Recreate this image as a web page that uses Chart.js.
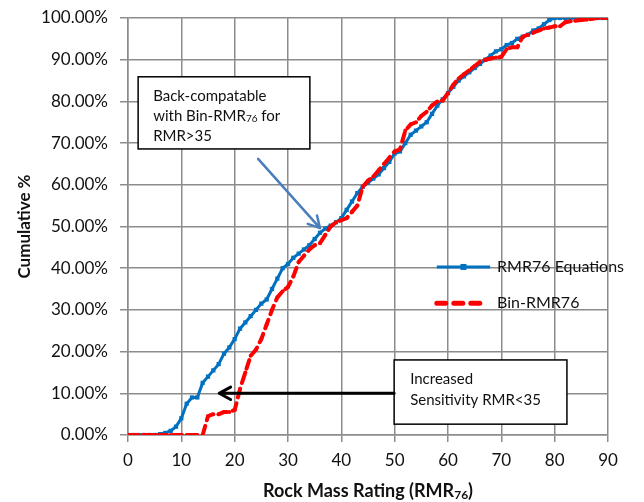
<!DOCTYPE html>
<html>
<head>
<meta charset="utf-8">
<script src="https://cdn.jsdelivr.net/npm/chart.js@4.4.1/dist/chart.umd.min.js"></script>
<style>
  html, body { margin: 0; padding: 0; background: #fff; }
  #wrap { width: 644px; height: 502px; }
</style>
</head>
<body>
<div id="wrap"><canvas id="chart" width="644" height="502"></canvas></div>
<script>
// RMR values (x) — one point per rating unit
const rmrValues = [];
for (let i = 0; i <= 90; i++) rmrValues.push(i);

// Cumulative %
const rmr76Equations = [
    0, 0, 0, 0, 0, 0, 0.2, 0.5, 1, 2,
    4, 7.5, 9, 9, 12.5, 14, 15.5, 17, 19.5, 21,
    23, 25.5, 27, 28.5, 30, 31.5, 32.5, 35, 37.5, 40,
    41, 42.5, 43.5, 44.5, 45.5, 47, 48.5, 49.5, 50.2, 51,
    52, 54, 56, 58, 59.5, 60.5, 61.5, 62.5, 64, 65.5,
    67.5, 68, 70, 72, 73, 74, 75, 77, 79, 80.5,
    82, 83.5, 85, 86, 87, 88, 89, 90, 91, 92,
    92.5, 93.5, 94, 95, 95.5, 96, 97, 97.5, 98.5, 99.5,
    100, 100, 100, 100, 100, 100, 100, 100, 100, 100,
    100
];
const binRmr76 = [
    0, 0, 0, 0, 0, 0, 0, 0, 0, 0,
    0, 0, 0, 0, 0, 4.5, 5, 5, 5.5, 5.5,
    6, 11, 15, 19, 20.5, 23, 26.5, 30, 33, 34.5,
    35.5, 38, 41.5, 43, 44.5, 45.5, 46, 48, 50, 51,
    51.5, 52, 53.5, 55, 59.5, 61, 62, 63.5, 65, 66.5,
    68, 68.5, 73, 74.5, 75, 76.5, 77.5, 79, 80, 80.2,
    82, 84, 85.5, 86.5, 87.5, 88.5, 89.5, 90, 90.3, 90.5,
    90.7, 92.5, 93, 93, 95.5, 96, 96.5, 97, 97.5, 97.7,
    98, 98, 99, 99.2, 99.4, 99.5, 99.6, 99.8, 100, 100,
    100
];
const seriesNames = ['RMR76 Equations', 'Bin-RMR76'];
const xTicks = [0, 10, 20, 30, 40, 50, 60, 70, 80, 90];
const yTicks = [0, 10, 20, 30, 40, 50, 60, 70, 80, 90, 100];

const BLUE = '#0070c0';
const RED = '#ff0000';
const TEXT = '#111';
const FONT = 'Lato, "Open Sans", sans-serif';

function toPoints(ys) {
    return rmrValues.map((x, i) => ({ x: x, y: ys[i] }));
}

// text with an optional subscript part: [['with Bin-RMR'], ['76', true], [' for']]
function drawRich(ctx, parts, x, y, size, bold) {
    let cx = x;
    parts.forEach(p => {
        const sub = p[1];
        const fs = sub ? Math.round(size * 0.65) : size;
        ctx.font = (bold ? 'bold ' : '') + fs + 'px ' + FONT;
        ctx.fillText(p[0], cx, sub ? y + size * 0.22 : y);
        cx += ctx.measureText(p[0]).width;
    });
    return cx - x;
}
function richWidth(ctx, parts, size, bold) {
    let w = 0;
    parts.forEach(p => {
        const fs = p[1] ? Math.round(size * 0.65) : size;
        ctx.font = (bold ? 'bold ' : '') + fs + 'px ' + FONT;
        w += ctx.measureText(p[0]).width;
    });
    return w;
}

function arrow(ctx, x1, y1, x2, y2, color, width) {
    ctx.save();
    ctx.strokeStyle = color;
    ctx.lineWidth = width;
    ctx.lineCap = 'round';
    ctx.lineJoin = 'round';
    ctx.beginPath();
    ctx.moveTo(x1, y1);
    ctx.lineTo(x2, y2);
    const a = Math.atan2(y2 - y1, x2 - x1);
    const len = 13, spread = 0.5;
    ctx.moveTo(x2 - len * Math.cos(a - spread), y2 - len * Math.sin(a - spread));
    ctx.lineTo(x2, y2);
    ctx.lineTo(x2 - len * Math.cos(a + spread), y2 - len * Math.sin(a + spread));
    ctx.stroke();
    ctx.restore();
}

const overlay = {
    id: 'overlay',
    afterDraw(chart) {
        const ctx = chart.ctx;
        const area = chart.chartArea;
        const xs = chart.scales.x, ys = chart.scales.y;
        const px = v => xs.getPixelForValue(v);
        const py = v => ys.getPixelForValue(v);
        ctx.save();
        ctx.textBaseline = 'middle';

        // legend
        const lx1 = px(57.9), lx2 = px(67.9);
        ctx.strokeStyle = BLUE; ctx.lineWidth = 3;
        ctx.beginPath(); ctx.moveTo(lx1, py(40.3)); ctx.lineTo(lx2, py(40.3)); ctx.stroke();
        ctx.fillStyle = BLUE;
        ctx.fillRect((lx1 + lx2) / 2 - 3, py(40.3) - 3, 6, 6);
        ctx.strokeStyle = RED; ctx.lineWidth = 5; ctx.lineCap = 'round';
        ctx.setLineDash([9, 8]);
        ctx.beginPath(); ctx.moveTo(lx1, py(31.6)); ctx.lineTo(lx2 - 3, py(31.6)); ctx.stroke();
        ctx.setLineDash([]);
        ctx.fillStyle = TEXT;
        ctx.font = '16px ' + FONT;
        ctx.fillText(seriesNames[0], px(69.2), py(40.3));
        ctx.fillText(seriesNames[1], px(69.2), py(31.6));

        // box 1
        ctx.lineCap = 'butt';
        let bx1 = px(1.9), bx2 = px(34.1), by1 = py(85.9), by2 = py(68.6);
        ctx.fillStyle = '#fff';
        ctx.fillRect(bx1, by1, bx2 - bx1, by2 - by1);
        ctx.strokeStyle = '#000'; ctx.lineWidth = 1.5;
        ctx.strokeRect(bx1, by1, bx2 - bx1, by2 - by1);
        ctx.fillStyle = TEXT;
        drawRich(ctx, [['Back-compatable']], bx1 + 15, by1 + 19, 15);
        drawRich(ctx, [['with Bin-RMR'], ['76', true], [' for']], bx1 + 15, by1 + 39, 15);
        drawRich(ctx, [['RMR>35']], bx1 + 15, by1 + 59, 15);
        arrow(ctx, px(24.4), py(66.2), px(36.0), py(49.6), '#4a7ebb', 2.5);

        // box 2
        bx1 = px(49.9); bx2 = px(82.3); by1 = py(18); by2 = py(2.6);
        ctx.fillStyle = '#fff';
        ctx.fillRect(bx1, by1, bx2 - bx1, by2 - by1);
        ctx.strokeStyle = '#000'; ctx.lineWidth = 1.5;
        ctx.strokeRect(bx1, by1, bx2 - bx1, by2 - by1);
        ctx.fillStyle = TEXT;
        drawRich(ctx, [['Increased']], bx1 + 16, by1 + 19, 15);
        drawRich(ctx, [['Sensitivity RMR<35']], bx1 + 16, by1 + 40, 15);
        arrow(ctx, px(49.9), py(10), px(17.1), py(10), '#000', 3);

        // x axis title with subscript
        const parts = [['Rock Mass Rating (RMR'], ['76', true], [')']];
        const w = richWidth(ctx, parts, 18, true);
        ctx.fillStyle = TEXT;
        drawRich(ctx, parts, (area.left + area.right) / 2 - w / 2, 491, 18, true);

        // y axis title
        ctx.save();
        ctx.translate(25, (area.top + area.bottom) / 2);
        ctx.rotate(-Math.PI / 2);
        ctx.textAlign = 'center';
        ctx.font = 'bold 17px ' + FONT;
        ctx.fillText('Cumulative %', 0, 0);
        ctx.restore();
        ctx.restore();
    }
};

new Chart(document.getElementById('chart'), {
    type: 'line',
    data: {
        datasets: [
            {
                label: seriesNames[1],
                data: toPoints(binRmr76),
                borderColor: RED,
                backgroundColor: RED,
                borderWidth: 4,
                borderDash: [9, 6],
                borderCapStyle: 'round',
                pointRadius: 2,
                pointStyle: 'circle',
                pointBorderWidth: 0,
                tension: 0,
                order: 0
            },
            {
                label: seriesNames[0],
                data: toPoints(rmr76Equations),
                borderColor: BLUE,
                backgroundColor: BLUE,
                borderWidth: 3,
                pointRadius: 3,
                pointStyle: 'rect',
                pointBorderWidth: 0,
                tension: 0,
                order: 1
            }
        ]
    },
    options: {
        responsive: false,
        animation: false,
        layout: { padding: { top: 18, right: 36, left: 0, bottom: 0 } },
        plugins: {
            legend: { display: false },
            tooltip: { enabled: false }
        },
        scales: {
            x: {
                type: 'linear',
                min: 0,
                max: 90,
                afterBuildTicks: s => { s.ticks = xTicks.map(v => ({ value: v })); },
                afterFit: s => { s.height = 67; s.paddingLeft = 0; s.paddingRight = 0; },
                grid: { color: '#8c8c8c', lineWidth: 1.5, tickLength: 7, drawTicks: true },
                border: { color: '#8c8c8c', width: 1.5 },
                ticks: { color: TEXT, font: { family: FONT, size: 17 }, padding: 8, maxRotation: 0 }
            },
            y: {
                min: 0,
                max: 100,
                afterBuildTicks: s => { s.ticks = yTicks.map(v => ({ value: v })); },
                afterFit: s => { s.width = 128; s.paddingTop = 0; s.paddingBottom = 0; },
                grid: { color: '#8c8c8c', lineWidth: 1.5, tickLength: 8 },
                border: { color: '#8c8c8c', width: 1.5 },
                ticks: {
                    color: TEXT,
                    font: { family: FONT, size: 17 },
                    padding: 12,
                    callback: v => v.toFixed(2) + '%'
                }
            }
        }
    },
    plugins: [overlay]
});
</script>
</body>
</html>
